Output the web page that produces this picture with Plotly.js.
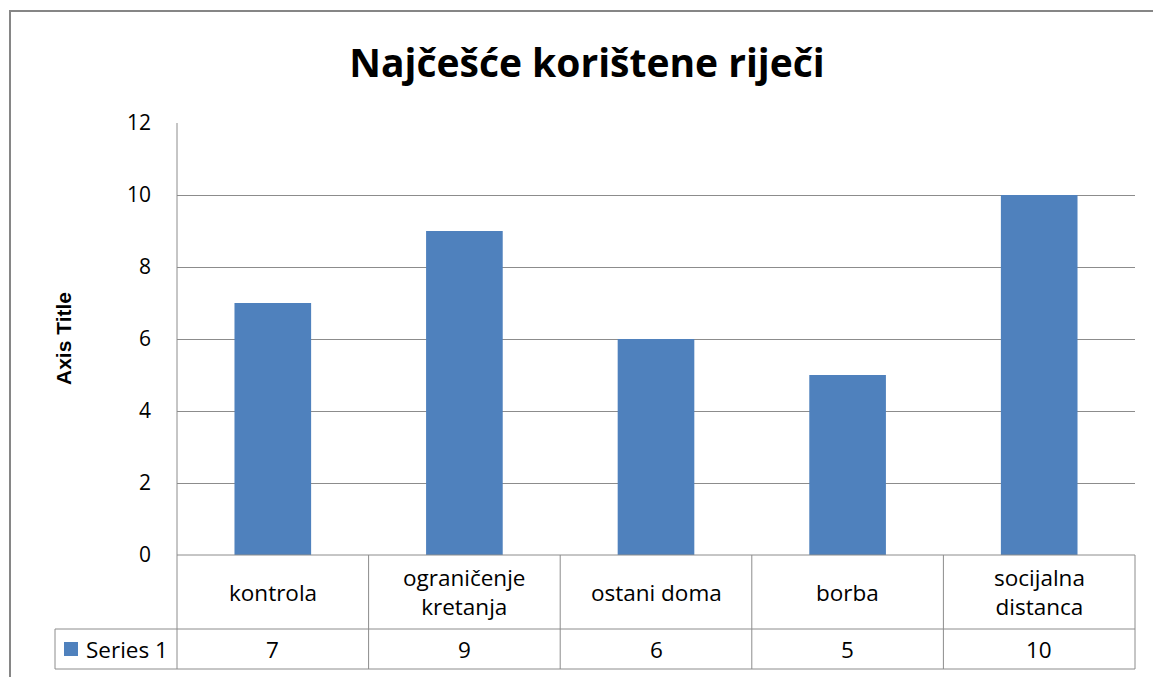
<!DOCTYPE html>
<html>
<head>
<meta charset="utf-8">
<script src="https://cdn.plot.ly/plotly-3.0.1.min.js"></script>
<style>html,body{margin:0;padding:0;background:#fff;}#chart{width:1153px;height:677px;}</style>
</head>
<body>
<div id="chart"></div>
<script>
const titleText = "Najčešće korištene riječi";
const categories = ["kontrola", "ograničenje kretanja", "ostani doma", "borba", "socijalna distanca"];
const categoryLabels = ["kontrola", "ograničenje<br>kretanja", "ostani doma", "borba", "socijalna<br>distanca"];
const seriesName = "Series 1";
const values = [7, 9, 6, 5, 10];
const yTicks = [0, 2, 4, 6, 8, 10, 12];
const yAxisTitle = "Axis Title";

const W = 1153, H = 677;
const L = 177, R = 1135, T = 123, B = 555;
const px = x => (x - L) / (R - L);
const py = y => (B - y) / (B - T);
const n = categories.length;
const colW = (R - L) / n;
const lineCol = "#8c8c8c";
const font = "Open Sans, sans-serif";
const tableSize = 22.5;

const shapes = [];
function hline(y, x0, x1, w) { shapes.push({type:"line", xref:"paper", yref:"paper", x0:px(x0), x1:px(x1), y0:py(y), y1:py(y), line:{color:lineCol, width:w||1}}); }
function vline(x, y0, y1, w) { shapes.push({type:"line", xref:"paper", yref:"paper", x0:px(x), x1:px(x), y0:py(y0), y1:py(y1), line:{color:lineCol, width:w||1}}); }

// data table
hline(555, L, R);
hline(629, 55, R);
hline(669, 55, R);
vline(55, 629, 669);
for (let i = 0; i <= n; i++) vline(L + i * colW, 555, 669);
vline(L, T, 555);
// outer border
shapes.push({type:"rect", xref:"paper", yref:"paper", x0:px(10), x1:px(1170), y0:py(11), y1:py(700), line:{color:"#868686", width:2}});
// legend key
shapes.push({type:"rect", xref:"paper", yref:"paper", x0:px(64), x1:px(78), y0:py(642), y1:py(656), fillcolor:"#4F81BD", line:{width:0}});

const annotations = [];
categories.forEach((c, i) => {
  annotations.push({xref:"paper", yref:"paper", x:px(L + (i + 0.5) * colW), y:py(592), text:categoryLabels[i], showarrow:false, xanchor:"center", yanchor:"middle", font:{family:font, size:tableSize, color:"#000"}});
  annotations.push({xref:"paper", yref:"paper", x:px(L + (i + 0.5) * colW), y:py(649), text:String(values[i]), showarrow:false, xanchor:"center", yanchor:"middle", font:{family:font, size:tableSize, color:"#000"}});
});
annotations.push({xref:"paper", yref:"paper", x:px(84), y:py(649), text:seriesName, showarrow:false, xanchor:"left", yanchor:"middle", font:{family:font, size:tableSize, color:"#000"}});
annotations.push({xref:"paper", yref:"paper", x:px(63), y:0.5, text:"<b>"+yAxisTitle+"</b>", textangle:-90, showarrow:false, xanchor:"center", yanchor:"middle", font:{family:"Liberation Sans, Arial, sans-serif", size:21, color:"#000"}});

const data = [{
  type:"bar", x:categories, y:values, name:seriesName,
  marker:{color:"#4F81BD"}, hoverinfo:"x+y"
}];

const layout = {
  width:W, height:H,
  margin:{l:L, r:W - R, t:T, b:H - B, pad:0},
  paper_bgcolor:"#fff", plot_bgcolor:"#fff",
  showlegend:false,
  bargap:0.6,
  title:{text:"<b>"+titleText+"</b>", x:587 / W, xref:"container", xanchor:"center", y:1 - 63 / H, yref:"container", yanchor:"middle", font:{family:font, size:39, color:"#000"}},
  xaxis:{showticklabels:false, showgrid:false, zeroline:false, showline:false, ticks:""},
  yaxis:{range:[0, 12], tickvals:yTicks, ticktext:yTicks.map(String), showgrid:true, gridcolor:lineCol, gridwidth:1, zeroline:false, showline:false,
         ticks:"", ticklabelstandoff:25, tickfont:{family:font, size:21, color:"#000"}},
  shapes:shapes, annotations:annotations
};

Plotly.newPlot("chart", data, layout, {displayModeBar:false, staticPlot:true});
</script>
</body>
</html>
